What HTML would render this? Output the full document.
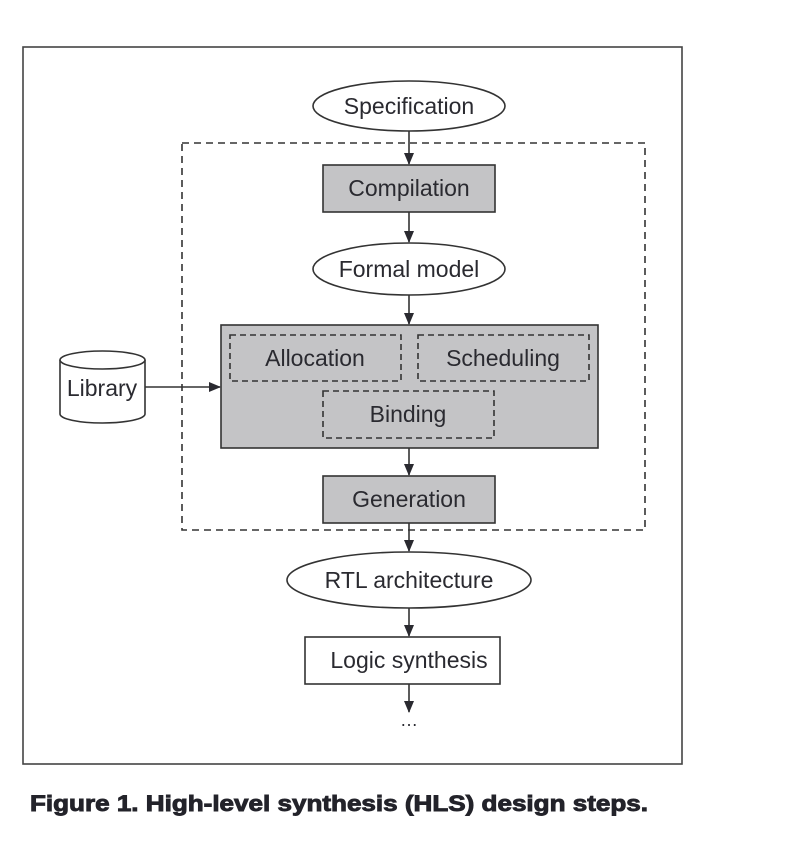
<!DOCTYPE html>
<html><head><meta charset="utf-8"><style>
html,body{margin:0;padding:0;background:#fff;}
svg{display:block;}
text{font-family:"Liberation Sans Narrow","Liberation Sans",sans-serif;fill:#2a2a30;font-size:23px;}
</style></head><body>
<svg width="806" height="862" viewBox="0 0 806 862" xmlns="http://www.w3.org/2000/svg">
<defs><marker id="a" markerWidth="12" markerHeight="10" refX="11" refY="5" orient="auto" markerUnits="userSpaceOnUse"><path d="M0,0 L12,5 L0,10 Z" fill="#2a2a30"/></marker></defs>
<g stroke="#333" stroke-width="1.6" fill="none">
<rect x="23" y="47" width="659" height="717" stroke="#444"/>
<rect x="182" y="143" width="463" height="387" stroke-dasharray="7,5"/>
<ellipse cx="409" cy="106" rx="96" ry="25" fill="#fff"/>
<rect x="323" y="165" width="172" height="47" fill="#c4c4c6"/>
<ellipse cx="409" cy="269" rx="96" ry="26" fill="#fff"/>
<rect x="221" y="325" width="377" height="123" fill="#c4c4c6"/>
<rect x="230" y="335" width="171" height="46" stroke-dasharray="6,4"/>
<rect x="418" y="335" width="171" height="46" stroke-dasharray="6,4"/>
<rect x="323" y="391" width="171" height="47" stroke-dasharray="6,4"/>
<rect x="323" y="476" width="172" height="47" fill="#c4c4c6"/>
<ellipse cx="409" cy="580" rx="122" ry="28" fill="#fff"/>
<rect x="305" y="637" width="195" height="47" fill="#fff"/>
<path d="M60,360 L60,414 A42.5,9 0 0 0 145,414 L145,360" fill="#fff"/>
<ellipse cx="102.5" cy="360" rx="42.5" ry="9" fill="#fff"/>
<line x1="409" y1="131" x2="409" y2="164" marker-end="url(#a)"/>
<line x1="409" y1="212" x2="409" y2="242" marker-end="url(#a)"/>
<line x1="409" y1="295" x2="409" y2="324" marker-end="url(#a)"/>
<line x1="409" y1="448" x2="409" y2="475" marker-end="url(#a)"/>
<line x1="409" y1="523" x2="409" y2="551" marker-end="url(#a)"/>
<line x1="409" y1="608" x2="409" y2="636" marker-end="url(#a)"/>
<line x1="409" y1="684" x2="409" y2="712" marker-end="url(#a)"/>
<line x1="145" y1="387" x2="220" y2="387" marker-end="url(#a)"/>
</g>
<text x="409" y="114" text-anchor="middle">Specification</text>
<text x="409" y="196" text-anchor="middle">Compilation</text>
<text x="409" y="277" text-anchor="middle">Formal model</text>
<text x="315" y="366" text-anchor="middle">Allocation</text>
<text x="503" y="366" text-anchor="middle">Scheduling</text>
<text x="408" y="422" text-anchor="middle">Binding</text>
<text x="102" y="396" text-anchor="middle">Library</text>
<text x="409" y="507" text-anchor="middle">Generation</text>
<text x="409" y="588" text-anchor="middle">RTL architecture</text>
<text x="409" y="668" text-anchor="middle">Logic synthesis</text>
<text x="409" y="726" text-anchor="middle" style="font-size:18px">…</text>
<text x="30" y="811" textLength="618" lengthAdjust="spacingAndGlyphs" style="font-family:'Liberation Sans',sans-serif;font-weight:bold;font-size:22px;fill:#23232a;stroke:#23232a;stroke-width:0.9">Figure 1. High-level synthesis (HLS) design steps.</text>
</svg>
</body></html>
